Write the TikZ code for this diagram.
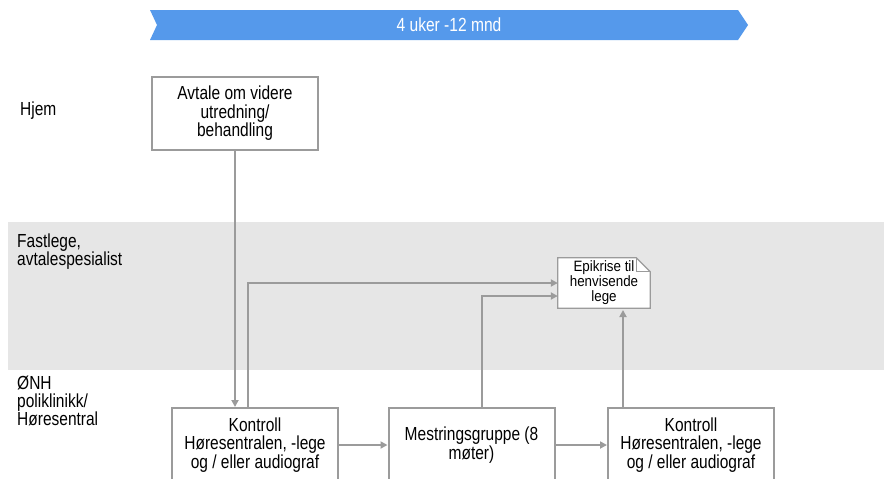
\documentclass[tikz,border=0pt]{standalone}
\usepackage{fontspec}
\setmainfont{Liberation Sans}[FakeStretch=0.82]
\newfontfamily\notefont{Liberation Sans}[FakeStretch=0.89]
\usetikzlibrary{arrows.meta}
\definecolor{bannerblue}{RGB}{85,153,235}
\definecolor{bandgray}{RGB}{230,230,230}
\definecolor{linegray}{RGB}{155,155,155}
\tikzset{
  x=1pt,y=-1pt,
  boxnode/.style={draw=linegray,line width=2pt,fill=white,minimum width=166pt,align=center,
    font=\fontsize{18.9}{18.5}\selectfont,inner sep=0pt},
  lanelabel/.style={anchor=north west,align=left,inner sep=0pt,font=\fontsize{18.9}{18}\selectfont},
  conn/.style={draw=linegray,line width=1.8pt,-{Triangle[length=7pt,width=7pt]}},
  notetext/.style={minimum width=92pt,minimum height=50pt,inner sep=0pt,align=center,
    font=\notefont\fontsize{15}{15}\selectfont}
}
\begin{document}
\begin{tikzpicture}
\clip (0,0) rectangle (884,479);
\useasboundingbox (0,0) rectangle (884,479);
\fill[white] (0,0) rectangle (884,479);
% gray band
\fill[bandgray] (8,222) rectangle (884,370);
% banner
\fill[bannerblue] (150,10) -- (738,10) -- (748,25) -- (738,40) -- (150,40) -- (157,25) -- cycle;
\node[text=white,font=\fontsize{19}{18}\selectfont] (banner) at (449,25) {4 uker -12 mnd};
% lane labels
\node[lanelabel] (hjem) at (20,101.5) {Hjem};
\node[lanelabel] (fast) at (17,234) {Fastlege,\\avtalespesialist};
\node[lanelabel] (onh) at (17,376) {ØNH\\poliklinikk/\\Høresentral};
% boxes
\node[boxnode,minimum height=73pt] (avtale) at (235,113.5) {Avtale om videre\\utredning/\\behandling};
\node[boxnode,minimum height=74pt] (k1) at (255,445) {Kontroll\\Høresentralen, -lege\\og / eller audiograf};
\node[boxnode,minimum height=74pt] (mest) at (471.5,445) {Mestringsgruppe (8\\møter)};
\node[boxnode,minimum height=74pt] (k3) at (691,445) {Kontroll\\Høresentralen, -lege\\og / eller audiograf};
% note
\node[notetext] (epi) at (604,283) {};
\draw[draw=linegray,line width=1.2pt,fill=white] (epi.south west) -- (epi.north west) -- ([xshift=-14pt]epi.north east)
  -- ([yshift=-14pt]epi.north east) -- (epi.south east) -- cycle;
\draw[draw=linegray,line width=1pt] ([xshift=-14pt]epi.north east) -- ([xshift=-14pt,yshift=-14pt]epi.north east) -- ([yshift=-14pt]epi.north east);
\node[notetext] (epitext) at (epi) {Epikrise til\\henvisende\\lege};
% connectors
\draw[conn] (avtale.south) -- (avtale.south |- k1.north);
\coordinate (c1) at (248,283);
\draw[conn] ([xshift=-7pt]k1.north) -- (c1) -- (epi.west |- c1);
\coordinate (c2) at (482,296);
\draw[conn] (c2 |- mest.north) -- (c2) -- (epi.west |- c2);
\draw[conn] (623,408) -- (623,310);
\draw[conn] (k1.east) -- (mest.west);
\draw[conn] (mest.east) -- (k3.west);
\end{tikzpicture}
\end{document}
